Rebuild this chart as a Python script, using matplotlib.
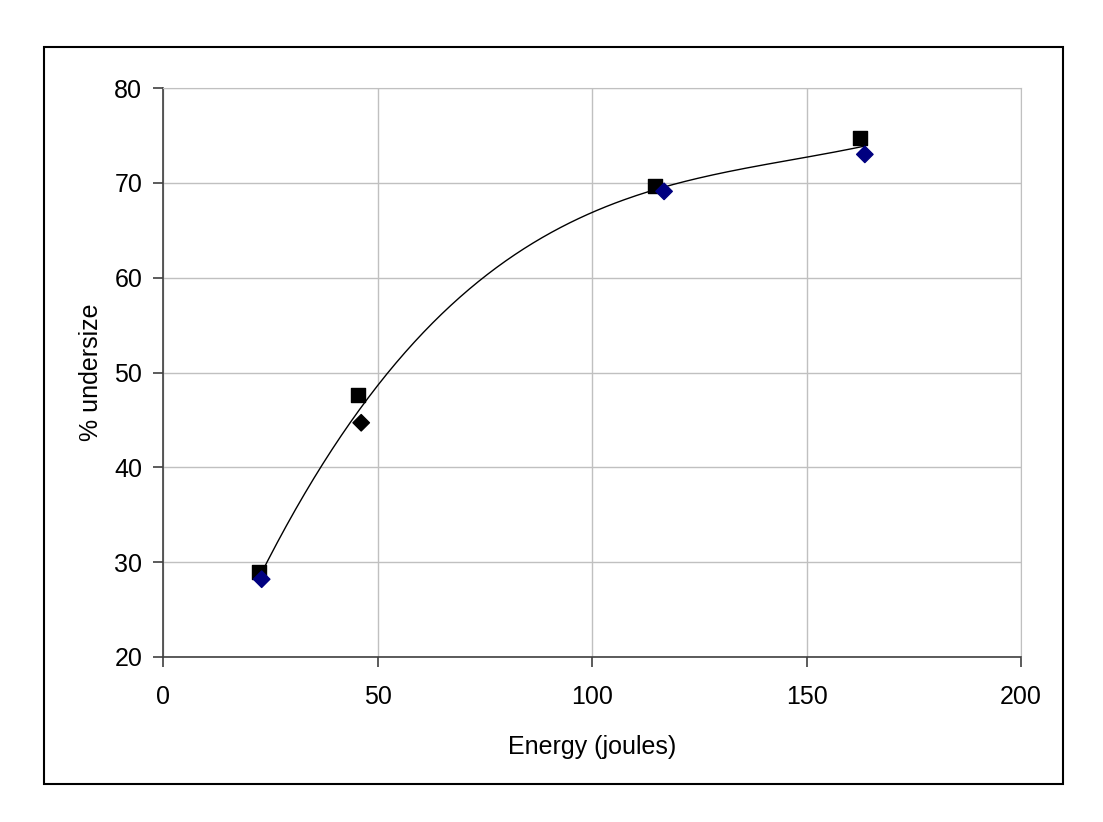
import numpy as np
import matplotlib.pyplot as plt
from matplotlib.patches import Rectangle

plt.rcParams['font.family'] = ['Liberation Sans', 'DejaVu Sans']

# measured points (squares) and repeat points (diamonds)
sq_energy = [22.4, 45.5, 114.7, 162.5]
sq_under = [29.0, 47.6, 69.7, 74.7]
dm_energy = [23.0, 46.2, 116.8, 163.6]
dm_under = [28.2, 44.7, 69.1, 73.0]
dm_colors = ['#000080', '#000000', '#000080', '#000080']

# trend line: cubic fit through all points
all_e = np.array(sq_energy + dm_energy)
all_u = np.array(sq_under + dm_under)
coef = np.polyfit(all_e, all_u, 3)
tx = np.linspace(all_e.min(), all_e.max(), 200)
ty = np.polyval(coef, tx)

fig = plt.figure(figsize=(11.03, 8.22), dpi=100)
ax = fig.add_axes([163 / 1103, 1 - 657 / 822, (1021 - 163) / 1103, (657 - 88) / 822])

fig.patches.append(Rectangle((44 / 1103, 1 - 784 / 822), (1063 - 44) / 1103, (784 - 47) / 822,
                             transform=fig.transFigure, fill=False, edgecolor='black', lw=1.5))

ax.plot(tx, ty, color='black', lw=1.0, zorder=3)
ax.scatter(sq_energy, sq_under, marker='s', s=110, color='black', zorder=4)
ax.scatter(dm_energy, dm_under, marker='D', s=70, color=dm_colors, zorder=5)

ax.set_xlim(0, 200)
ax.set_ylim(20, 80)
ax.set_xticks([0, 50, 100, 150, 200])
ax.set_yticks([20, 30, 40, 50, 60, 70, 80])
ax.grid(True, color='#c0c0c0', lw=1.0)
ax.set_axisbelow(True)
for side in ['top', 'right']:
    ax.spines[side].set_color('#c0c0c0')
for side in ['left', 'bottom']:
    ax.spines[side].set_color('#404040')
    ax.spines[side].set_linewidth(1.2)
ax.tick_params(direction='out', length=7, width=1.2, color='#404040', labelsize=18)
ax.tick_params(axis='x', pad=13)
ax.tick_params(axis='y', pad=8)
ax.set_xlabel('Energy (joules)', fontsize=18, labelpad=19)
ax.set_ylabel('% undersize', fontsize=18, labelpad=8)

fig.savefig('out.png', dpi=100)
